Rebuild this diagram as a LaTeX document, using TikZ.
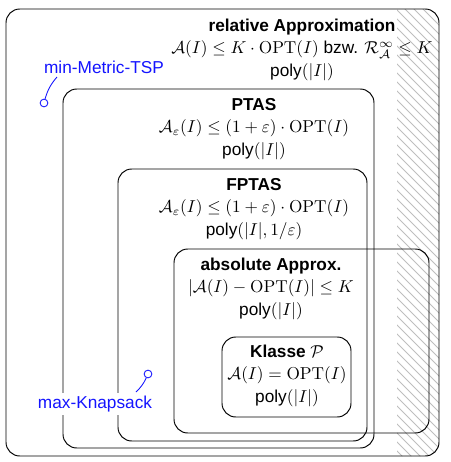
\documentclass[tikz,border=0pt]{standalone}
\usepackage[no-math]{fontspec}
\setmainfont{Liberation Sans}
\usepackage{amsmath,amssymb}
\usetikzlibrary{fit}
\definecolor{hatchgray}{RGB}{190,190,190}
\definecolor{labelblue}{RGB}{20,20,255}
\tikzset{
  box/.style={draw=black, line width=0.55pt, rounded corners=8pt, inner sep=0pt},
  boxtext/.style={align=center, inner sep=0pt, execute at begin node={\setlength{\baselineskip}{13pt}}},
  hatchline/.style={draw=hatchgray, line width=0.5pt},
  tag/.style={text=labelblue, fill=white, inner sep=2pt},
  tagline/.style={draw=labelblue, line width=0.5pt},
  tagdot/.style={circle, draw=labelblue, fill=white, line width=0.5pt, inner sep=0pt, minimum size=4.5pt}
}
\begin{document}
\begin{tikzpicture}[x=0.58pt, y=-0.58pt]
\useasboundingbox (0,0) rectangle (451,462);
% hatched strip
\begin{scope}
  \clip[rounded corners=8pt] (6,9) rectangle (439,456);
  \clip (397,0) rectangle (451,462);
  \foreach \i in {-90,-81,...,445} {\draw[hatchline] (\i,0) -- ++(480,480);}
\end{scope}
% boxes
\node[box, fit={(6,9) (439,456)}] (outer) {};
\node[box, fit={(63,89) (374,448)}] (ptas) {};
\node[box, fit={(118,169) (367,441)}] (fptas) {};
\node[box, fit={(174,249) (429,433)}] (abs) {};
\node[box, fit={(222,337) (351,417)}] (klasse) {};
% texts
\node[boxtext] (trel) at (302,49.5) {\textbf{relative Approximation}\\ $\mathcal{A}(I)\le K\cdot\mathrm{OPT}(I)$ bzw. $\mathcal{R}^{\infty}_{\mathcal{A}}\le K$\\ poly$(|I|)$};
\node[boxtext] (tptas) at (254,129) {\textbf{PTAS}\\ $\mathcal{A}_{\varepsilon}(I)\le(1+\varepsilon)\cdot\mathrm{OPT}(I)$\\ poly$(|I|)$};
\node[boxtext] (tfptas) at (254,209) {\textbf{FPTAS}\\ $\mathcal{A}_{\varepsilon}(I)\le(1+\varepsilon)\cdot\mathrm{OPT}(I)$\\ poly$(|I|,1/\varepsilon)$};
\node[boxtext] (tabs) at (271,288.5) {\textbf{absolute Approx.}\\ $|\mathcal{A}(I)-\mathrm{OPT}(I)|\le K$\\ poly$(|I|)$};
\node[boxtext] (tklasse) at (287,375.5) {\textbf{Klasse $\mathcal{P}$}\\ $\mathcal{A}(I)=\mathrm{OPT}(I)$\\ poly$(|I|)$};
% example labels
\node[tag] (tsp) at (104,67) {min-Metric-TSP};
\coordinate (tspend) at (57,77);
\node[tagdot] (tspdot) at (44,103) {};
\draw[tagline] (tspend) to[bend right=12] (tspdot);
\node[tag] (knap) at (95,404) {max-Knapsack};
\coordinate (knapend) at (136,392);
\node[tagdot] (knapdot) at (148,374) {};
\draw[tagline] (knapend) to[bend right=10] (knapdot);
\end{tikzpicture}
\end{document}
